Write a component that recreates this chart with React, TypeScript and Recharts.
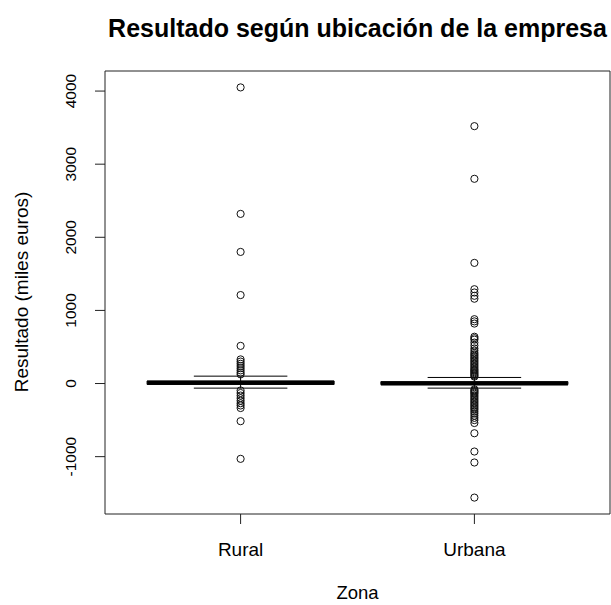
import {
  ComposedChart,
  XAxis,
  YAxis,
  Scatter,
  ReferenceLine,
  ReferenceArea,
} from "recharts";

// resumen de cada caja (miles de euros)
const zonas = ["Rural", "Urbana"];
const medianas = [12, 1];
const cuartil1 = [-12, -14];
const cuartil3 = [35, 26];
const bigoteInf = [-63, -63];
const bigoteSup = [101, 83];

// valores atípicos de cada zona
const atipicosRural = [
  4050, 2320, 1800, 1210, 515, 330, 300, 270, 240, 210, 180, 150, 125,
  -95, -130, -165, -200, -235, -270, -300, -335, -515, -1030,
];
const atipicosUrbana = [
  3520, 2800, 1650, 1290, 1245, 1200, 1160, 880, 850, 820, 640, 620, 600,
  560, 520, 480, 450, 420, 400, 380, 360, 340, 320, 300, 280, 260, 240, 220,
  200, 185, 170, 155, 140, 125, 110, 95,
  -80, -95, -110, -125, -140, -160, -180, -200, -220, -240, -260, -280, -300,
  -320, -340, -360, -385, -410, -440, -470, -500, -540, -680, -930, -1080,
  -1560,
];

const yTicks = [-1000, 0, 1000, 2000, 3000, 4000];

const FONT = "'Liberation Sans', Arial, sans-serif";

const todos = [...atipicosRural, ...atipicosUrbana];
const yMin = Math.min(...todos);
const yMax = Math.max(...todos);
const ext = (yMax - yMin) * 0.04;
const yDomain = [yMin - ext, yMax + ext];
const xDomain = [0.42, 2.58];

const puntosRural = atipicosRural.map((v) => ({ x: 1, y: v }));
const puntosUrbana = atipicosUrbana.map((v) => ({ x: 2, y: v }));

const Circulo = (props: any) => (
  <circle cx={props.cx} cy={props.cy} r={3.6} fill="none" stroke="#111" strokeWidth={1} />
);

const YTick = ({ y, payload }: any) => (
  <text
    transform={`translate(76, ${y}) rotate(-90)`}
    textAnchor="middle"
    fontSize={15.5}
    fontFamily={FONT}
    fill="#000"
  >
    {payload.value}
  </text>
);

const XTick = ({ x, payload }: any) => (
  <text x={x} y={556} textAnchor="middle" fontSize={19} fontFamily={FONT} fill="#000">
    {zonas[payload.value - 1]}
  </text>
);

export default function App() {
  return (
    <div style={{ position: "absolute", left: 0, top: 0, width: 611, height: 605, background: "#fff" }}>
      <div
        style={{
          position: "absolute",
          left: 357.5,
          top: 14,
          transform: "translateX(-50%)",
          whiteSpace: "nowrap",
          fontFamily: FONT,
          fontWeight: "bold",
          fontSize: 25,
        }}
      >
        Resultado según ubicación de la empresa
      </div>
      <ComposedChart width={611} height={605} margin={{ top: 71, right: 1, bottom: 0, left: 0 }}>
        <XAxis
          dataKey="x"
          type="number"
          domain={xDomain}
          ticks={[1, 2]}
          tick={<XTick />}
          tickSize={10}
          tickLine={{ stroke: "#222" }}
          axisLine={false}
          height={91}
          allowDataOverflow
          label={{
            content: () => (
              <text x={357.5} y={599} textAnchor="middle" fontSize={18.5} fontFamily={FONT} fill="#000">
                Zona
              </text>
            ),
          }}
        />
        <YAxis
          dataKey="y"
          type="number"
          domain={yDomain}
          ticks={yTicks}
          tick={<YTick />}
          tickSize={10}
          tickLine={{ stroke: "#222" }}
          axisLine={false}
          width={105}
          allowDataOverflow
          label={{
            content: () => (
              <text
                transform="translate(28, 292) rotate(-90)"
                textAnchor="middle"
                fontSize={19}
                fontFamily={FONT}
                fill="#000"
              >
                Resultado (miles euros)
              </text>
            ),
          }}
        />
        {/* marco del gráfico */}
        <ReferenceArea
          x1={xDomain[0]}
          x2={xDomain[1]}
          y1={yDomain[0]}
          y2={yDomain[1]}
          fill="none"
          stroke="#222"
          strokeWidth={1}
          ifOverflow="visible"
        />
        {zonas.map((z, i) => {
          const c = i + 1;
          return [
            <ReferenceLine
              key={`bs-${z}`}
              segment={[{ x: c, y: cuartil3[i] }, { x: c, y: bigoteSup[i] }]}
              stroke="#000"
              strokeDasharray="4 3"
            />,
            <ReferenceLine
              key={`bi-${z}`}
              segment={[{ x: c, y: cuartil1[i] }, { x: c, y: bigoteInf[i] }]}
              stroke="#000"
              strokeDasharray="4 3"
            />,
            <ReferenceLine
              key={`cs-${z}`}
              segment={[{ x: c - 0.2, y: bigoteSup[i] }, { x: c + 0.2, y: bigoteSup[i] }]}
              stroke="#000"
            />,
            <ReferenceLine
              key={`ci-${z}`}
              segment={[{ x: c - 0.2, y: bigoteInf[i] }, { x: c + 0.2, y: bigoteInf[i] }]}
              stroke="#000"
            />,
            <ReferenceArea
              key={`caja-${z}`}
              x1={c - 0.4}
              x2={c + 0.4}
              y1={cuartil1[i]}
              y2={cuartil3[i]}
              fill="#fff"
              fillOpacity={1}
              stroke="#000"
            />,
            <ReferenceLine
              key={`med-${z}`}
              segment={[{ x: c - 0.4, y: medianas[i] }, { x: c + 0.4, y: medianas[i] }]}
              stroke="#000"
              strokeWidth={4}
            />,
          ];
        })}
        <Scatter data={puntosRural} dataKey="y" shape={<Circulo />} isAnimationActive={false} />
        <Scatter data={puntosUrbana} dataKey="y" shape={<Circulo />} isAnimationActive={false} />
      </ComposedChart>
    </div>
  );
}
